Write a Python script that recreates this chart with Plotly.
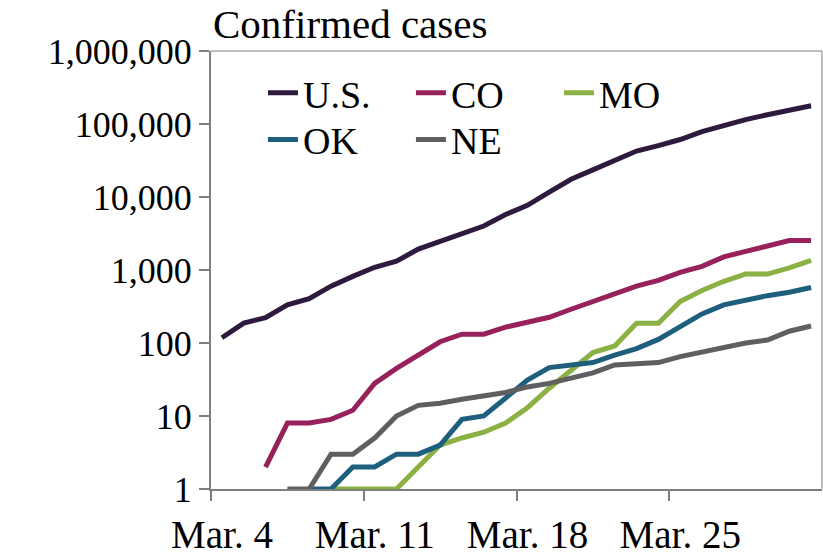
import plotly.graph_objects as go

# ---- data ----
dates = ["2020-03-%02d" % d for d in range(4, 32)]  # Mar. 4 .. Mar. 31

us = [118, 187, 223, 333, 405, 600, 818, 1090, 1320, 1930, 2460, 3160, 4000, 5750,
      7700, 11700, 17500, 23500, 32300, 42600, 50500, 61300, 78500, 97000, 115000,
      134000, 155000, 178000]
co = [None, None, 2, 8, 8, 9, 12, 28, 45, 70, 104, 132, 132, 165, 190, 225, 290,
      370, 480, 600, 720, 930, 1120, 1510, 1800, 2130, 2530, 2530]
mo = [None, None, None, None, None, 1, 1, 1, 1, 2, 4, 5, 6, 8, 13, 24, 43, 74, 91,
      186, 186, 370, 525, 700, 880, 880, 1070, 1350]
ok = [None, None, None, None, 1, 1, 2, 2, 3, 3, 4, 9, 10, 18, 31, 46, 50, 54, 68,
      84, 112, 165, 250, 333, 390, 445, 495, 575]
ne = [None, None, None, 1, 1, 3, 3, 5, 10, 14, 15, 17, 19, 21, 25, 28, 33, 39, 50,
      51, 54, 65, 76, 89, 100, 110, 145, 171]

series_names = ["U.S.", "CO", "MO", "OK", "NE"]
series_values = [us, co, mo, ok, ne]
series_colors = ["#2e1a3d", "#97215a", "#8bb043", "#1f5f7e", "#5f5f5f"]
series_legend = ["legend", "legend", "legend", "legend2", "legend2"]

tick_bounds = ["2020-03-03 12:00", "2020-03-10 12:00", "2020-03-17 12:00", "2020-03-24 12:00"]
tick_labels = ["Mar. 4", "Mar. 11", "Mar. 18", "Mar. 25"]
x_range = ["2020-03-03 12:00", "2020-03-31 12:00"]

FONT = "Liberation Serif"
AXIS_COLOR = "#7f7f7f"

fig = go.Figure()
for name, vals, col, lg in zip(series_names, series_values, series_colors, series_legend):
    fig.add_trace(go.Scatter(
        x=dates, y=vals, name=name, mode="lines",
        line=dict(color=col, width=5), legend=lg, connectgaps=False,
    ))

legend_common = dict(
    orientation="h", xanchor="left", yanchor="middle",
    entrywidth=103, entrywidthmode="pixels",
    font=dict(family=FONT, size=38, color="black"),
    bgcolor="rgba(0,0,0,0)", borderwidth=0, itemwidth=30,
    tracegroupgap=0,
)

fig.update_layout(
    width=823, height=555,
    margin=dict(l=211, r=1, t=51, b=66, autoexpand=False),
    paper_bgcolor="white", plot_bgcolor="white",
    font=dict(family=FONT, size=38, color="black"),
    legend=dict(x=0.085, y=0.904, **legend_common),
    legend2=dict(x=0.085, y=0.797, **legend_common),
    xaxis=dict(
        type="date", range=x_range, automargin=False,
        tickmode="array", tickvals=tick_bounds, ticktext=tick_labels,
        ticklabelshift=11, ticklabelstandoff=0,
        ticks="outside", ticklen=10, tickwidth=2, tickcolor=AXIS_COLOR,
        showline=True, linecolor=AXIS_COLOR, linewidth=2,
        showgrid=False, zeroline=False,
        tickfont=dict(family=FONT, size=39, color="black"),
    ),
    yaxis=dict(
        type="log", range=[0, 6], dtick=1, tickformat=",", automargin=False,
        ticks="outside", ticklen=10, tickwidth=2, tickcolor=AXIS_COLOR,
        showline=True, linecolor=AXIS_COLOR, linewidth=2,
        showgrid=False, zeroline=False,
        tickfont=dict(family=FONT, size=36, color="black"),
    ),
    shapes=[
        dict(type="line", xref="paper", yref="paper", x0=0, x1=1, y0=1, y1=1,
             line=dict(color=AXIS_COLOR, width=1)),
        dict(type="line", xref="paper", yref="paper", x0=1, x1=1, y0=0, y1=1,
             line=dict(color=AXIS_COLOR, width=1)),
    ],
    annotations=[
        dict(text="Confirmed cases", xref="paper", yref="paper", x=0.0, y=1,
             xanchor="left", yanchor="bottom", yshift=2, showarrow=False,
             font=dict(family=FONT, size=41, color="black")),
    ],
)

fig.write_html("out.html")
